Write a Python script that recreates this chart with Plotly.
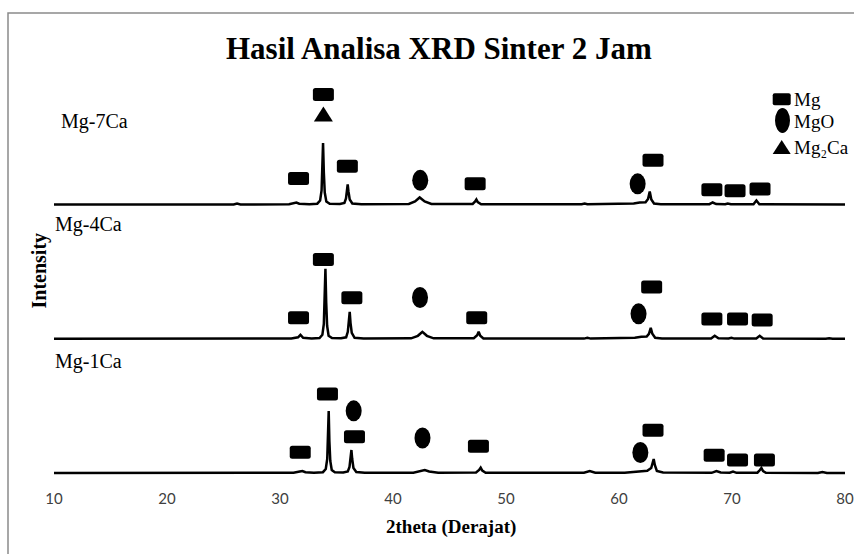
import plotly.graph_objects as go

# ---------------- data ----------------
series_names = ["Mg-1Ca", "Mg-4Ca", "Mg-7Ca"]
series_offsets = [0, 134.2, 268.5]

# (2theta, intensity above own baseline)
profile_1ca = [
    (10, 0), (20, 0), (28, 0), (31.2, 0.3), (31.75, 1.5), (31.98, 2), (32.25, 0.8), (33.0, 0.3),
    (33.8, 0.8), (34.05, 4), (34.18, 14), (34.25, 32), (34.31, 62), (34.37, 32), (34.45, 12),
    (34.58, 3), (34.85, 0.8), (35.6, 0.5), (36.0, 1.5), (36.15, 6), (36.26, 15), (36.32, 23),
    (36.39, 14), (36.5, 5), (36.75, 1), (37.5, 0.3), (41.8, 0.3), (42.5, 2), (42.81, 3),
    (43.2, 1.5), (44.0, 0.2), (47.35, 0.5), (47.62, 3), (47.76, 5.3), (47.9, 2.5), (48.2, 0.3),
    (56.9, 0.2), (57.41, 2), (57.9, 0.2), (60.5, 0.3), (61.3, 1), (61.83, 2), (62.5, 2.2),
    (62.85, 5), (62.98, 10), (63.07, 14), (63.17, 8), (63.35, 2), (63.9, 0.5), (68.2, 0.2),
    (68.62, 2), (69.0, 0.5), (69.8, 0.3), (70.09, 1.5), (70.4, 0.2), (72.25, 0.3), (72.47, 3),
    (72.6, 5), (72.75, 2), (73.0, 0.3), (77.6, 0.1), (78.0, 1), (78.4, 0.1), (80, 0),
]
profile_4ca = [
    (10, 0), (20, 0), (28, 0), (31.0, 0.3), (31.6, 1.5), (31.81, 4), (32.05, 1), (32.8, 0.3),
    (33.5, 0.8), (33.75, 4), (33.88, 15), (33.95, 38), (34.02, 70), (34.09, 36), (34.17, 13),
    (34.3, 3), (34.6, 0.8), (35.4, 0.5), (35.85, 1.5), (36.0, 7), (36.1, 17), (36.17, 27),
    (36.24, 16), (36.35, 6), (36.6, 1), (37.4, 0.3), (41.6, 0.5), (42.2, 3), (42.6, 7),
    (43.0, 3), (43.6, 0.5), (47.15, 0.5), (47.45, 3.5), (47.58, 7), (47.72, 3), (48.0, 0.3),
    (56.9, 0.2), (57.2, 1), (57.5, 0.2), (60.5, 0.3), (61.4, 1), (61.98, 2), (62.45, 2.2),
    (62.65, 5), (62.81, 11), (62.95, 5), (63.2, 1), (63.8, 0.3), (68.15, 0.3), (68.47, 3),
    (68.8, 0.5), (69.7, 0.3), (69.95, 1), (70.2, 0.2), (72.15, 0.3), (72.45, 3), (72.75, 0.3),
    (78.3, 0.1), (78.6, 0.5), (78.9, 0.1), (80, 0),
]
profile_7ca = [
    (10, 0), (20, 0), (25.9, 0), (26.2, 1), (26.5, 0), (30.8, 0.3), (31.3, 1.2), (31.45, 2),
    (31.7, 0.8), (32.6, 0.3), (33.3, 0.8), (33.55, 4), (33.68, 14), (33.75, 33), (33.81, 61.5),
    (33.88, 32), (33.96, 12), (34.1, 3), (34.4, 0.8), (35.3, 0.5), (35.7, 1.5), (35.84, 6),
    (35.93, 14), (35.99, 20), (36.06, 13), (36.17, 5), (36.4, 1), (37.2, 0.3), (41.4, 0.5),
    (41.95, 3), (42.36, 7), (42.8, 3), (43.4, 0.5), (47.05, 0.5), (47.27, 3), (47.38, 5),
    (47.5, 2.5), (47.8, 0.3), (56.7, 0.2), (56.96, 1), (57.2, 0.2), (60.4, 0.3), (61.3, 1),
    (61.83, 2), (62.35, 2.2), (62.57, 5.5), (62.72, 13), (62.86, 5), (63.1, 1), (63.7, 0.3),
    (68.0, 0.3), (68.29, 2), (68.6, 0.4), (69.4, 0.3), (69.62, 1), (69.9, 0.2), (71.9, 0.3),
    (72.16, 4), (72.42, 0.3), (80, 0),
]
profiles = [profile_1ca, profile_4ca, profile_7ca]

# phase labels: (2theta, height above the series baseline)
mg_marks = [
    [(31.79, 20.7), (34.20, 79), (36.59, 36.3), (47.56, 26.7), (63.01, 42.7), (68.42, 17.7), (70.49, 13), (72.87, 13)],
    [(31.64, 21.1), (33.84, 79.3), (36.36, 41.1), (47.41, 21.1), (62.89, 51.8), (68.22, 19.8), (70.49, 19.8), (72.67, 18.8)],
    [(31.64, 26), (33.84, 110), (35.96, 38.2), (47.27, 20.8), (63.01, 44.2), (68.22, 14.8), (70.27, 13.7), (72.48, 15.5)],
]
mgo_marks = [
    [(36.52, 62.2), (42.61, 35), (61.89, 20.5)],
    [(42.39, 41.3), (61.73, 25)],
    [(42.41, 24.2), (61.65, 20.7)],
]
mg2ca_marks = [[], [], [(33.84, 90.5)]]

x_ticks = [10, 20, 30, 40, 50, 60, 70, 80]
title_text = "Hasil Analisa XRD Sinter 2 Jam"
x_title = "2theta (Derajat)"
y_title = "Intensity"
legend_items = ["Mg", "MgO", "Mg\u2082Ca"]

# ---------------- layout helpers ----------------
L, R, T, B = 54, 9, 63, 76
W, H = 854, 554
PW, PH = W - L - R, H - T - B


def px(xp):
    return (xp - L) / PW


def py(yp):
    return (H - B - yp) / PH


SERIF = "Liberation Serif"
RECT_PATH = ("M-8,-6.5 L8,-6.5 Q10.5,-6.5 10.5,-4 L10.5,4 Q10.5,6.5 8,6.5 "
             "L-8,6.5 Q-10.5,6.5 -10.5,4 L-10.5,-4 Q-10.5,-6.5 -8,-6.5 Z")
TRI_PATH = "M-9.5,-7.5 L9.5,-7.5 L0,7.5 Z"

fig = go.Figure()
shapes = []
for name, off, prof, mg, mgo, m2 in zip(series_names, series_offsets, profiles,
                                         mg_marks, mgo_marks, mg2ca_marks):
    fig.add_trace(go.Scatter(
        x=[p[0] for p in prof], y=[p[1] + off for p in prof],
        mode="lines", line=dict(color="black", width=2.5), name=name,
        showlegend=False, hoverinfo="skip"))
    for t, h in mg:
        shapes.append(dict(type="path", xref="x", yref="y", xsizemode="pixel", ysizemode="pixel",
                           xanchor=t, yanchor=h + off, path=RECT_PATH,
                           fillcolor="black", line=dict(width=0), layer="above"))
    for t, h in mgo:
        shapes.append(dict(type="circle", xref="x", yref="y", xsizemode="pixel", ysizemode="pixel",
                           xanchor=t, yanchor=h + off, x0=-8, x1=8, y0=-10.5, y1=10.5,
                           fillcolor="black", line=dict(width=0), layer="above"))
    for t, h in m2:
        shapes.append(dict(type="path", xref="x", yref="y", xsizemode="pixel", ysizemode="pixel",
                           xanchor=t, yanchor=h + off, path=TRI_PATH,
                           fillcolor="black", line=dict(width=0), layer="above"))

# legend glyphs
shapes.append(dict(type="path", xref="paper", yref="paper", xsizemode="pixel", ysizemode="pixel",
                   xanchor=px(781.7), yanchor=py(99.2),
                   path="M-7,-6 L7,-6 Q9,-6 9,-4 L9,4 Q9,6 7,6 L-7,6 Q-9,6 -9,4 L-9,-4 Q-9,-6 -7,-6 Z",
                   fillcolor="black", line=dict(width=0)))
shapes.append(dict(type="circle", xref="paper", yref="paper", xsizemode="pixel", ysizemode="pixel",
                   xanchor=px(782.5), yanchor=py(120.5), x0=-7.5, x1=7.5, y0=-12.5, y1=12.5,
                   fillcolor="black", line=dict(width=0)))
shapes.append(dict(type="path", xref="paper", yref="paper", xsizemode="pixel", ysizemode="pixel",
                   xanchor=px(781.7), yanchor=py(147), path="M-9,-7 L9,-7 L0,7 Z",
                   fillcolor="black", line=dict(width=0)))
# outer frame
shapes.append(dict(type="rect", xref="paper", yref="paper",
                   x0=px(8), x1=px(858), y0=py(570), y1=py(13),
                   line=dict(color="#8a8a8a", width=1.5), fillcolor="rgba(0,0,0,0)"))

annotations = [
    dict(text=f"<b>{title_text}</b>", x=px(438.5), y=py(48), xref="paper", yref="paper",
         showarrow=False, xanchor="center", yanchor="middle",
         font=dict(family=SERIF, size=31, color="black")),
    dict(text=f"<b>{x_title}</b>", x=px(451), y=py(527), xref="paper", yref="paper",
         showarrow=False, xanchor="center", yanchor="middle",
         font=dict(family=SERIF, size=19, color="black")),
    dict(text=f"<b>{y_title}</b>", x=px(38.5), y=py(271), xref="paper", yref="paper",
         showarrow=False, xanchor="center", yanchor="middle", textangle=-90,
         font=dict(family=SERIF, size=20, color="black")),
]
label_pos = [(53, 361), (53.3, 225), (59.3, 122)]
for name, (lx, ly) in zip(series_names, label_pos):
    annotations.append(dict(text=name, x=px(lx), y=py(ly), xref="paper", yref="paper",
                            showarrow=False, xanchor="left", yanchor="middle",
                            font=dict(family=SERIF, size=20, color="black")))
for txt, ly in zip(legend_items, [99.5, 121, 147.5]):
    annotations.append(dict(text=txt, x=px(792), y=py(ly), xref="paper", yref="paper",
                            showarrow=False, xanchor="left", yanchor="middle",
                            font=dict(family=SERIF, size=19, color="black")))

fig.update_layout(
    width=W, height=H, margin=dict(l=L, r=R, t=T, b=B, autoexpand=False),
    paper_bgcolor="white", plot_bgcolor="white",
    xaxis=dict(range=[10, 80], tickvals=x_ticks, showgrid=False, zeroline=False,
               showline=False, ticks="", ticklabelstandoff=10, automargin=False,
               tickfont=dict(family="Lato", size=15, color="#404040")),
    yaxis=dict(range=[-5, 410], showgrid=False, zeroline=False, showline=False,
               showticklabels=False, ticks="", automargin=False),
    shapes=shapes, annotations=annotations, showlegend=False,
)
fig.write_html("out.html")
